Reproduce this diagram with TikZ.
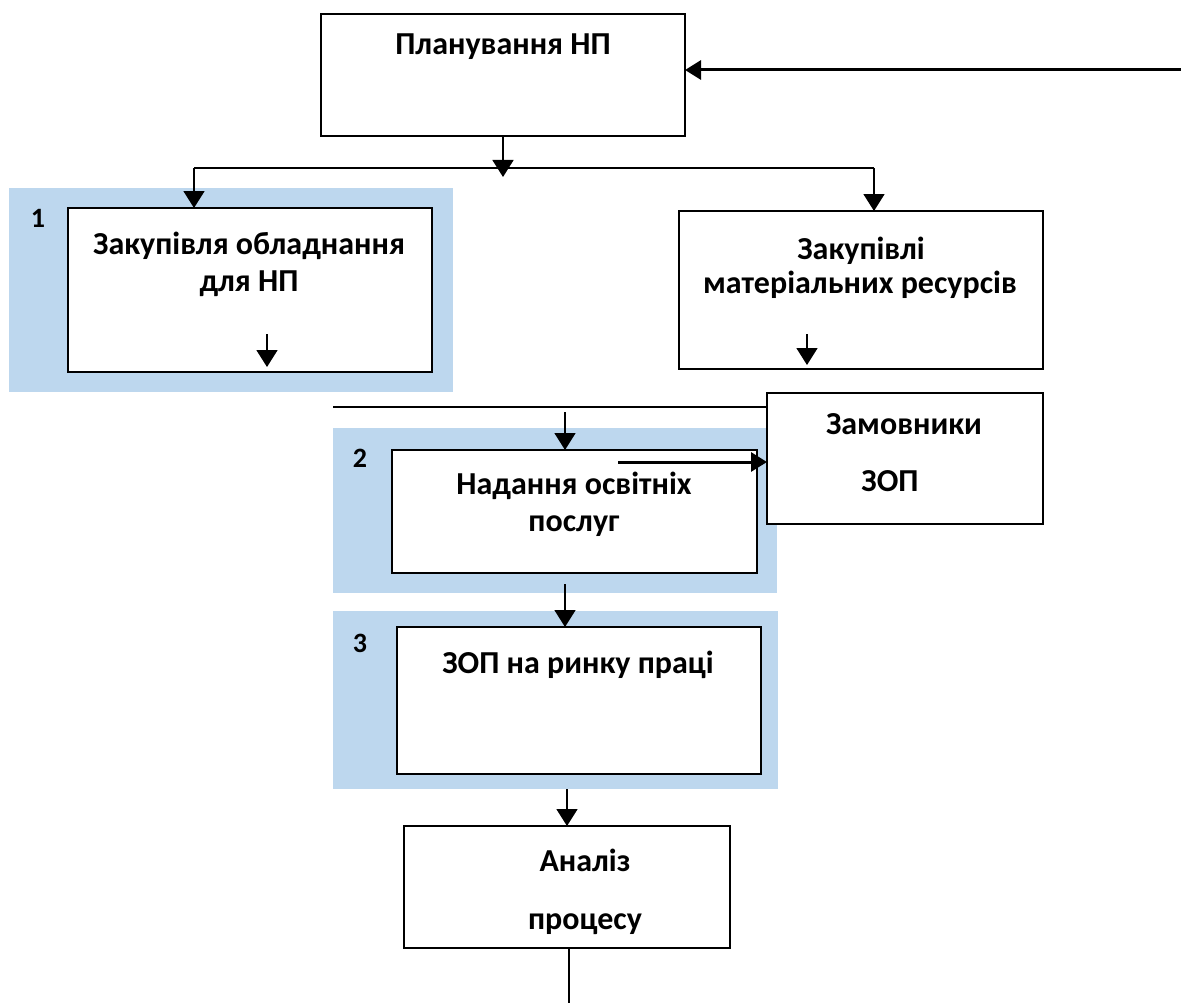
\documentclass[tikz,border=0pt]{standalone}
\usepackage{fontspec}
\setmainfont{Carlito}
\usetikzlibrary{arrows.meta}
\definecolor{stagebg}{RGB}{189,215,238}
\begin{document}
\begin{tikzpicture}[x=1pt,y=-1pt,
  every node/.style={inner sep=0pt,outer sep=0pt},
  stagebg/.style={fill=stagebg,draw=none},
  box/.style={draw=black,fill=white,line width=1.4pt,rectangle,anchor=north west},
  txt/.style={font=\fontsize{32}{38}\selectfont\bfseries,anchor=base},
  num/.style={font=\fontsize{28}{33}\selectfont\bfseries,anchor=base},
  link/.style={line width=1.5pt},
  arr/.style={line width=1.7pt,-{Triangle[length=17pt,width=21pt]}},
  thickarr/.style={line width=3pt,-{Triangle[length=16pt,width=19pt]}}]
\useasboundingbox (0,0) rectangle (1181,1006);

% stage backgrounds
\fill[stagebg] (9,188) rectangle (453,392);
\fill[stagebg] (333,428) rectangle (777,593);
\fill[stagebg] (333,611) rectangle (778,789);

% boxes
\node[box,minimum width=364pt,minimum height=122pt] (plan) at (321,14) {};
\node[box,minimum width=364pt,minimum height=164pt] (equip) at (68,208) {};
\node[box,minimum width=364pt,minimum height=158pt] (mat) at (679,211) {};
\node[box,minimum width=276pt,minimum height=131pt] (cust) at (767,393) {};
\node[box,minimum width=365pt,minimum height=123pt] (serv) at (392,450) {};
\node[box,minimum width=364pt,minimum height=147pt] (labour) at (397,627) {};
\node[box,minimum width=326pt,minimum height=122pt] (anal) at (404,826) {};

% labels
\node[txt] (planT) at (503,55) {Планування НП};
\node[txt] (equipT1) at (249,254) {Закупівля обладнання};
\node[txt] (equipT2) at (249,291) {для НП};
\node[txt] (matT1) at (861,259) {Закупівлі};
\node[txt] (matT2) at (860,293) {матеріальних ресурсів};
\node[txt] (custT1) at (904,434) {Замовники};
\node[txt] (custT2) at (890,491) {ЗОП};
\node[txt] (servT1) at (574,494) {Надання освітніх};
\node[txt] (servT2) at (574,531) {послуг};
\node[txt] (labourT) at (578,673) {ЗОП на ринку праці};
\node[txt] (analT1) at (585,871) {Аналіз};
\node[txt] (analT2) at (585,929) {процесу};

\node[num] (n1) at (38,227) {1};
\node[num] (n2) at (360,467) {2};
\node[num] (n3) at (360,652) {3};

% connector points
\coordinate (feed) at (1181,70);
\coordinate (splitL) at (194,168);
\coordinate (splitR) at (874,168);
\coordinate (splitEnd) at (503,177);
\coordinate (eqA) at (267,334);
\coordinate (eqB) at (267,367);
\coordinate (matA) at (807,334);
\coordinate (matB) at (807,365);
\coordinate (joinL) at (333,407);
\coordinate (servIn) at (565,412);
\coordinate (servOut) at (618,462);
\coordinate (labIn) at (565,584);
\coordinate (analIn) at (567,789);
\coordinate (tailEnd) at (569,1003);

% connectors
\draw[thickarr] (feed) -- (feed -| plan.east);
\draw[arr] (plan.south) -- (splitEnd);
\draw[link] (splitL) -- (splitR);
\draw[arr] (splitL) -- (splitL |- equip.north);
\draw[arr] (splitR) -- (splitR |- mat.north);
\draw[arr] (eqA) -- (eqB);
\draw[arr] (matA) -- (matB);
\draw[link] (joinL) -- (joinL -| cust.west);
\draw[arr] (servIn) -- (servIn |- serv.north);
\draw[thickarr] (servOut) -- (servOut -| cust.west);
\draw[arr] (labIn) -- (labIn |- labour.north);
\draw[arr] (analIn) -- (analIn |- anal.north);
\draw[link] (anal.south -| tailEnd) -- (tailEnd);
\end{tikzpicture}
\end{document}
